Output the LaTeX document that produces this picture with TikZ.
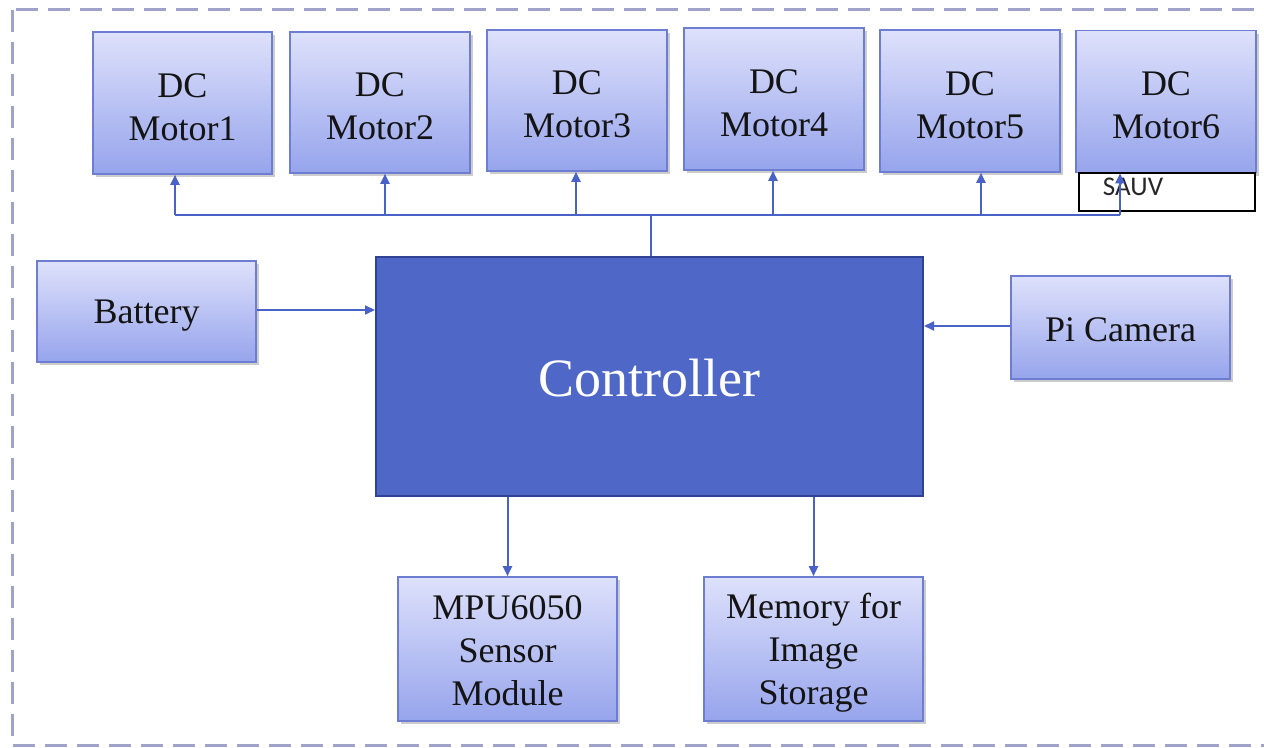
\documentclass[tikz,border=0pt]{standalone}
\usepackage{fontspec}
\setmainfont{Liberation Serif}
\newfontfamily\labelfont{Carlito}
\usetikzlibrary{arrows.meta,shadows}
\definecolor{boxtop}{RGB}{222,225,251}
\definecolor{boxbot}{RGB}{150,164,236}
\definecolor{boxline}{RGB}{108,125,210}
\definecolor{ctrlfill}{RGB}{79,103,198}
\definecolor{ctrlline}{RGB}{48,66,150}
\definecolor{wire}{RGB}{72,98,200}
\definecolor{frame}{RGB}{160,162,202}
\tikzset{
  unitbox/.style={rectangle, draw=boxline, line width=0.8pt,
    top color=boxtop, bottom color=boxbot,
    drop shadow={shadow xshift=1.4pt, shadow yshift=-1.6pt, opacity=0.4, fill=black!50}},
  boxtext/.style={align=center, font=\fontsize{18}{21.5}\selectfont, text=black!92},
  wireline/.style={draw=wire, line width=1pt},
  arr/.style={wireline, -{Triangle[length=5pt,width=4.5pt]}},
}
\begin{document}
\begin{tikzpicture}[x=0.5pt,y=-0.5pt]
\useasboundingbox (0,0) rectangle (1264,748);
\begin{scope}
\clip (0,0) rectangle (1264,748);
\draw[frame, line width=1.5pt, dash pattern=on 11pt off 5pt] (12,10) rectangle (1290,745);
\end{scope}

% motors
\node[unitbox, minimum width=89.5pt, minimum height=71pt,
  label={[boxtext, yshift=-2pt]center:{DC\\Motor1}}] (m1) at (182.5,103) {};
\node[unitbox, minimum width=90pt, minimum height=70.5pt,
  label={[boxtext, yshift=-2pt]center:{DC\\Motor2}}] (m2) at (380,102.5) {};
\node[unitbox, minimum width=90pt, minimum height=70.5pt,
  label={[boxtext, yshift=-2pt]center:{DC\\Motor3}}] (m3) at (577,100.5) {};
\node[unitbox, minimum width=90pt, minimum height=71pt,
  label={[boxtext, yshift=-2pt]center:{DC\\Motor4}}] (m4) at (774,99) {};
\node[unitbox, minimum width=90pt, minimum height=71pt,
  label={[boxtext, yshift=-2pt]center:{DC\\Motor5}}] (m5) at (970,101) {};
\node[unitbox, minimum width=90pt, minimum height=71pt,
  label={[boxtext, yshift=-2pt]center:{DC\\Motor6}}] (m6) at (1166,101.5) {};

% label box under motor 6
\node[draw=black, line width=0.8pt, fill=white, minimum width=88pt, minimum height=19pt, inner sep=0pt] (tag) at (1167,192) {};
\node[font=\labelfont\fontsize{13.5}{15}\selectfont, text=black!85, inner sep=0pt] (tagtext) at (1133,187) {SAUV};

% central blocks
\node[rectangle, draw=ctrlline, line width=1pt, fill=ctrlfill, minimum width=273.5pt, minimum height=119.5pt,
  label={[text=white, font=\fontsize{27}{30}\selectfont, yshift=-1pt]center:Controller}] (ctrl) at (649.5,376.5) {};
\node[unitbox, minimum width=109.5pt, minimum height=50.5pt,
  label={[boxtext, yshift=-2pt]center:Battery}] (bat) at (146.5,311.5) {};
\node[unitbox, minimum width=109.5pt, minimum height=51.5pt,
  label={[boxtext, yshift=-1pt]center:Pi Camera}] (cam) at (1120.5,327.5) {};
\node[unitbox, minimum width=109.5pt, minimum height=72pt,
  label={[boxtext, yshift=-1pt]center:{MPU6050\\Sensor\\Module}}] (mpu) at (507.5,649) {};
\node[unitbox, minimum width=109.5pt, minimum height=72pt,
  label={[boxtext, yshift=-2pt]center:{Memory for\\Image\\Storage}}] (mem) at (813.5,649) {};

% motor bus
\coordinate (trunk) at (651,215);
\coordinate (b1) at (175,215);
\coordinate (b2) at (385,215);
\coordinate (b3) at (576,215);
\coordinate (b4) at (773,215);
\coordinate (b5) at (981,215);
\coordinate (b6) at (1120,215);
\draw[wireline] (trunk |- ctrl.north) -- (trunk);
\draw[wireline] (b1) -- (b6);
\draw[arr] (b1) -- (b1 |- m1.south);
\draw[arr] (b2) -- (b2 |- m2.south);
\draw[arr] (b3) -- (b3 |- m3.south);
\draw[arr] (b4) -- (b4 |- m4.south);
\draw[arr] (b5) -- (b5 |- m5.south);
\draw[arr] (b6) -- (b6 |- m6.south);

% inputs and outputs
\coordinate (batrow) at (0,310);
\coordinate (camrow) at (0,326);
\draw[arr] (bat.east |- batrow) -- (ctrl.west |- batrow);
\draw[arr] (cam.west |- camrow) -- (ctrl.east |- camrow);
\draw[arr] (ctrl.south -| mpu) -- (mpu.north);
\draw[arr] (ctrl.south -| mem) -- (mem.north);
\end{tikzpicture}
\end{document}
